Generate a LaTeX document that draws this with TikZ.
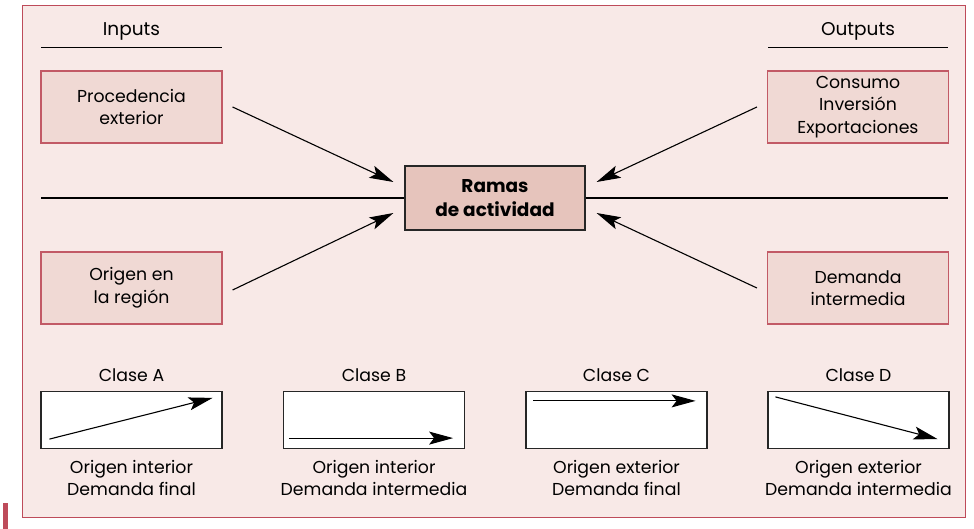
\documentclass[tikz,border=0pt]{standalone}
\usepackage{fontspec}
\setmainfont{Poppins}
\usetikzlibrary{arrows.meta,calc}
\definecolor{bg}{HTML}{F8E9E7}
\definecolor{boxfill}{HTML}{F0D9D4}
\definecolor{boxline}{HTML}{C25A66}
\definecolor{centfill}{HTML}{E6C4BC}
\definecolor{framecol}{HTML}{BE4B5A}
\tikzset{
  txt/.style={font=\fontsize{17.3}{22.5}\selectfont, align=center, inner sep=0pt},
  pinkbox/.style={txt, draw=boxline, fill=boxfill, line width=1.2pt, minimum width=181pt, minimum height=72pt},
  centbox/.style={draw=black!85, fill=centfill, line width=1.2pt, minimum width=180pt, minimum height=64pt, align=center, inner sep=0pt, font=\fontsize{18.5}{24}\selectfont\bfseries},
  classbox/.style={draw=black!85, fill=white, line width=1.2pt, minimum width=181pt, minimum height=57pt, inner sep=0pt},
  title/.style={font=\fontsize{18.5}{22}\selectfont, inner sep=0pt},
  arr/.style={line width=1.1pt, -{Stealth[length=24pt,width=13pt,inset=5pt]}},
  plain/.style={line width=1.2pt}
}
\begin{document}
\begin{tikzpicture}[x=1pt,y=-1pt]
\useasboundingbox (0,0) rectangle (974,529);
\draw[framecol, fill=bg, line width=1.4pt] (22.5,5.5) rectangle (965.5,517.5);
\fill[framecol] (3,503) rectangle (8,529);

% titles
\node[title] (tin) at (131.5,31) {Inputs};
\node[title] (tout) at (858,31) {Outputs};
\coordinate (inl) at (41,47.5); \coordinate (inr) at (222,47.5);
\coordinate (outl) at (768,47.5); \coordinate (outr) at (948,47.5);
\draw[plain] (inl) -- (inr);
\draw[plain] (outl) -- (outr);

% boxes
\node[pinkbox] (proc) at (131.5,107) {Procedencia\\exterior};
\node[pinkbox] (cons) at (858,107) {Consumo\\Inversión\\Exportaciones};
\node[pinkbox] (orig) at (131.5,288) {Origen en\\la región};
\node[pinkbox] (dem) at (858,288) {Demanda\\intermedia};
\node[centbox] (cent) at (495,198) {Ramas\\de actividad};

% horizontal line
\coordinate (hl) at (41,198); \coordinate (hr) at (948,198);
\draw[plain] (hl) -- (cent.west);
\draw[plain] (cent.east) -- (hr);

% arrows
\draw[arr] ([xshift=10pt]proc.east) -- ([xshift=-11pt,yshift=16pt]cent.west);
\draw[arr] ([xshift=-10pt]cons.west) -- ([xshift=11pt,yshift=16pt]cent.east);
\draw[arr] ([xshift=10pt,yshift=-2pt]orig.east) -- ([xshift=-11pt,yshift=-15pt]cent.west);
\draw[arr] ([xshift=-10pt]dem.west) -- ([xshift=11pt,yshift=-15pt]cent.east);

% classes
\node[classbox] (ca) at (131.5,420) {};
\node[classbox] (cb) at (374,420) {};
\node[classbox] (cc) at (616.5,420) {};
\node[classbox] (cd) at (858.5,420) {};
\foreach \n/\l in {ca/A,cb/B,cc/C,cd/D}{
  \node[txt] (t\n) at ($(\n.north)+(0,-16)$) {Clase \l};
}
\node[txt, anchor=north] (ka) at ($(ca.south)+(0,11)$) {Origen interior\\Demanda final};
\node[txt, anchor=north] (kb) at ($(cb.south)+(0,11)$) {Origen interior\\Demanda intermedia};
\node[txt, anchor=north] (kc) at ($(cc.south)+(0,11)$) {Origen exterior\\Demanda final};
\node[txt, anchor=north] (kd) at ($(cd.south)+(0,11)$) {Origen exterior\\Demanda intermedia};

\coordinate (a1) at ($(ca.south west)+(9,-10)$); \coordinate (a2) at ($(ca.north east)+(-10,7)$);
\coordinate (b1) at ($(cb.south west)+(6,-11)$); \coordinate (b2) at ($(cb.south east)+(-12,-11)$);
\coordinate (c1) at ($(cc.north west)+(8,10)$); \coordinate (c2) at ($(cc.north east)+(-12,10)$);
\coordinate (d1) at ($(cd.north west)+(8,6)$); \coordinate (d2) at ($(cd.south east)+(-12,-10)$);
\draw[arr] (a1) -- (a2);
\draw[arr] (b1) -- (b2);
\draw[arr] (c1) -- (c2);
\draw[arr] (d1) -- (d2);
\end{tikzpicture}
\end{document}
